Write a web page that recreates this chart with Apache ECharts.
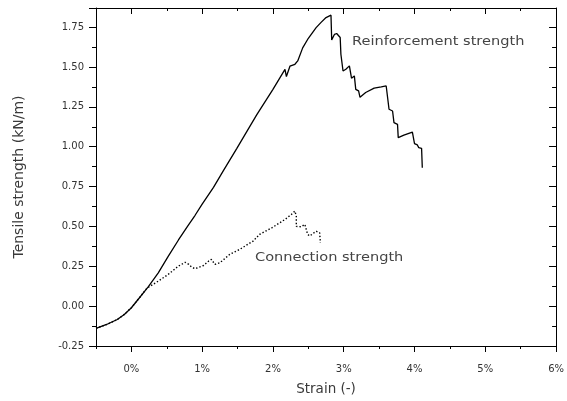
<!DOCTYPE html>
<html>
<head>
<meta charset="utf-8">
<script src="https://cdn.jsdelivr.net/npm/echarts@6/dist/echarts.min.js"></script>
<style>html,body{margin:0;padding:0;background:#fff}#c{width:567px;height:401px}</style>
</head>
<body>
<div id="c"></div>
<script>
// Strain (%) and tensile strength (kN/m)
var reinfStrain = [-0.5,-0.35,-0.2,-0.1,0,0.1,0.24,0.38,0.52,0.665,0.8,0.9,1.0,1.16,1.3,1.49,1.77,2.0,2.17,2.19,2.24,2.31,2.35,2.42,2.5,2.61,2.68,2.75,2.82,2.83,2.87,2.9,2.95,2.96,2.99,3.03,3.08,3.11,3.15,3.17,3.21,3.23,3.31,3.43,3.53,3.6,3.62,3.64,3.69,3.71,3.76,3.77,3.85,3.97,4.0,4.04,4.06,4.1,4.11];
var reinfStrength = [-0.14,-0.115,-0.084,-0.052,-0.01,0.045,0.122,0.209,0.312,0.415,0.505,0.57,0.64,0.745,0.85,0.99,1.2,1.36,1.485,1.44,1.505,1.517,1.538,1.62,1.68,1.747,1.78,1.81,1.825,1.67,1.705,1.71,1.685,1.58,1.475,1.486,1.507,1.43,1.444,1.36,1.35,1.31,1.34,1.367,1.375,1.381,1.37,1.235,1.224,1.151,1.14,1.057,1.073,1.092,1.019,1.011,0.994,0.99,0.868];
var connStrain = [-0.5,-0.35,-0.2,-0.1,0,0.1,0.22,0.38,0.52,0.665,0.76,0.81,0.85,0.9,1.02,1.09,1.13,1.18,1.25,1.39,1.53,1.72,1.81,1.98,2.17,2.26,2.31,2.33,2.33,2.4,2.45,2.49,2.52,2.61,2.66,2.67];
var connStrength = [-0.14,-0.115,-0.084,-0.052,-0.01,0.045,0.113,0.157,0.199,0.251,0.275,0.262,0.245,0.235,0.255,0.282,0.293,0.262,0.272,0.325,0.356,0.408,0.45,0.49,0.544,0.575,0.596,0.565,0.5,0.498,0.513,0.45,0.44,0.47,0.46,0.397];
var xMajorTicks = [0,1,2,3,4,5,6];
var yTicks = [-0.25,0,0.25,0.5,0.75,1.0,1.25,1.5,1.75];
var labelReinf = 'Reinforcement strength';
var labelConn = 'Connection strength';

function zip(a,b){return a.map(function(v,i){return [v,b[i]];});}

var font = 'DejaVu Sans, Liberation Sans, Arial, sans-serif';
var chart = echarts.init(document.getElementById('c'), null, {renderer:'canvas'});
var common = {min:-0.5, max:6, type:'value', splitLine:{show:false}};
chart.setOption({
  animation:false,
  backgroundColor:'#fff',
  grid:{left:96, right:9, top:8, bottom:55, containLabel:false},
  xAxis:[
    Object.assign({}, common, {
      position:'bottom', interval:0.5,
      name:'Strain (-)', nameLocation:'middle', nameGap:36,
      nameTextStyle:{fontFamily:font, fontSize:13.5, color:'#3a3a3a'},
      axisLine:{show:true, onZero:false, lineStyle:{color:'#000', width:1}},
      axisTick:{show:true, inside:false, length:3, lineStyle:{color:'#000'}},
      axisLabel:{show:true, margin:18, fontFamily:font, fontSize:10, color:'#333',
        customValues:xMajorTicks,
        formatter:function(v){return Math.round(v)+'%';}}
    }),
    Object.assign({}, common, {
      position:'bottom',
      axisLine:{show:false, onZero:false},
      axisTick:{show:true, inside:false, length:6, customValues:xMajorTicks, lineStyle:{color:'#000'}},
      axisLabel:{show:false}
    }),
    Object.assign({}, common, {
      position:'top', interval:0.5,
      axisLine:{show:true, onZero:false, lineStyle:{color:'#000', width:1}},
      axisTick:{show:true, inside:true, length:3, lineStyle:{color:'#000'}},
      axisLabel:{show:false}
    }),
    Object.assign({}, common, {
      position:'top',
      axisLine:{show:false, onZero:false},
      axisTick:{show:true, inside:true, length:6, customValues:xMajorTicks, lineStyle:{color:'#000'}},
      axisLabel:{show:false}
    })
  ],
  yAxis:[
    {type:'value', min:-0.25, max:1.87, interval:0.25, position:'left',
     name:'Tensile strength (kN/m)', nameLocation:'middle', nameGap:70,
     nameTextStyle:{fontFamily:font, fontSize:14, color:'#3a3a3a'},
     splitLine:{show:false},
     axisLine:{show:true, onZero:false, lineStyle:{color:'#000'}},
     axisTick:{show:true, inside:false, length:7, lineStyle:{color:'#000'}},
     minorTick:{show:true, splitNumber:2, length:4, lineStyle:{color:'#000'}},
     axisLabel:{show:true, margin:12, fontFamily:font, fontSize:10, color:'#333',
       customValues:yTicks,
       formatter:function(v){return v.toFixed(2);}}
    },
    {type:'value', min:-0.25, max:1.87, interval:0.25, position:'right',
     splitLine:{show:false},
     axisLine:{show:true, onZero:false, lineStyle:{color:'#000'}},
     axisTick:{show:true, inside:true, length:7, lineStyle:{color:'#000'}},
     minorTick:{show:true, splitNumber:2, length:4, lineStyle:{color:'#000'}},
     axisLabel:{show:false}
    }
  ],
  series:[
    {type:'line', name:labelReinf, data:zip(reinfStrain, reinfStrength), xAxisIndex:0, yAxisIndex:0,
     symbol:'none', lineStyle:{color:'#000', width:1.3}, z:3},
    {type:'line', name:labelConn, data:zip(connStrain, connStrength), xAxisIndex:0, yAxisIndex:0,
     symbol:'none', lineStyle:{color:'#000', width:1.4, type:[1.4,2]}, z:2}
  ],
  graphic:[
    {type:'text', x:352, y:42, scaleX:1.12, style:{text:labelReinf, font:'13px '+font, fill:'#444', verticalAlign:'middle', align:'left'}},
    {type:'text', x:255, y:258, scaleX:1.12, style:{text:labelConn, font:'13px '+font, fill:'#444', verticalAlign:'middle', align:'left'}}
  ]
});
</script>
</body>
</html>
